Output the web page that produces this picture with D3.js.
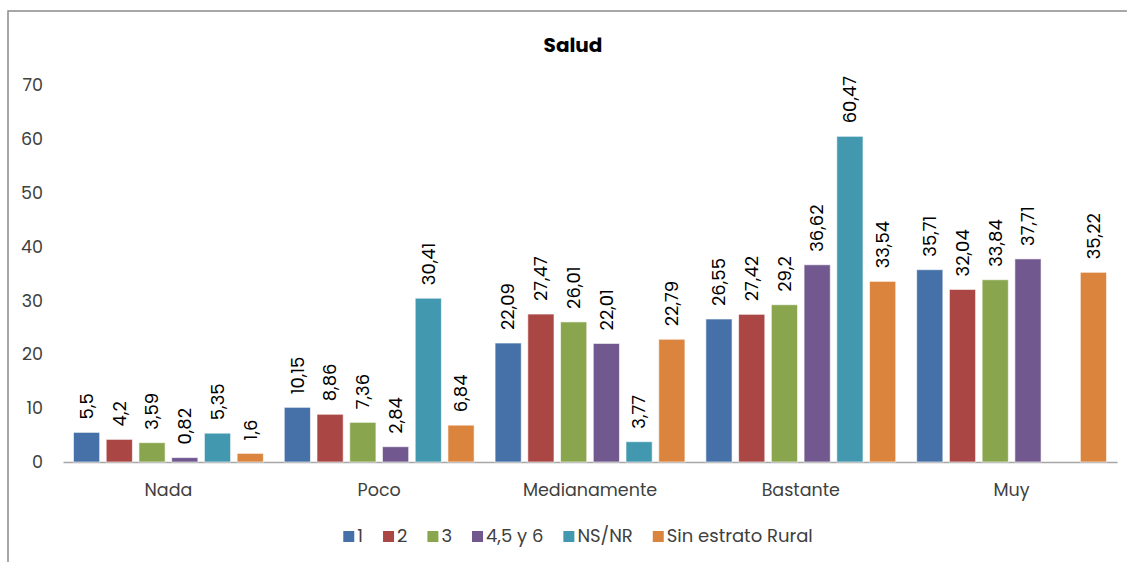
<!DOCTYPE html>
<html><head><meta charset="utf-8">
<script src="https://cdn.jsdelivr.net/npm/d3@7"></script>
<style>body{margin:0;background:#fff}svg{display:block}</style>
</head><body>
<svg id="chart" width="1127" height="562"></svg>
<script>
const categories = ["Nada","Poco","Medianamente","Bastante","Muy"];
const seriesNames = ["1","2","3","4,5 y 6","NS/NR","Sin estrato Rural"];
const s1 = [5.5,10.15,22.09,26.55,35.71];
const s2 = [4.2,8.86,27.47,27.42,32.04];
const s3 = [3.59,7.36,26.01,29.2,33.84];
const s4 = [0.82,2.84,22.01,36.62,37.71];
const s5 = [5.35,30.41,3.77,60.47,null];
const s6 = [1.6,6.84,22.79,33.54,35.22];
const yTicks = [0,10,20,30,40,50,60,70];
const colors = ["#4571a8","#aa4643","#89a54e","#71588f","#4198af","#db843d"];
const seriesValues = [s1,s2,s3,s4,s5,s6];

const svg = d3.select("#chart");
const font = "Poppins, 'Noto Sans', 'Liberation Sans', sans-serif";
// frame
svg.append("rect").attr("x",8).attr("y",11).attr("width",1200).attr("height",600)
  .attr("fill","none").attr("stroke","#8a8a8a").attr("stroke-width",1.5);

const pLeft=63, pRight=1117, pTop=85, pBottom=462;
const x0 = d3.scaleBand().domain(categories).range([pLeft,pRight]);
const x1 = d3.scaleBand().domain(seriesNames).range([0,x0.bandwidth()]).paddingInner(0.2).paddingOuter(0.32);
const y = d3.scaleLinear().domain([0,70]).range([pBottom,pTop]);

svg.append("text").attr("x",573).attr("y",52).attr("text-anchor","middle")
  .attr("font-family",font).attr("font-weight","bold").attr("font-size",20).attr("fill","#000").text("Salud");

const yAxis = svg.append("g").attr("transform",`translate(${pLeft},0)`)
  .call(d3.axisLeft(y).tickValues(yTicks).tickSize(0).tickPadding(20).tickFormat(d3.format("d")));
yAxis.select(".domain").remove();
yAxis.selectAll("text").attr("font-family",font).attr("font-size",17.5).attr("fill","#404040");

const xAxis = svg.append("g").attr("transform",`translate(0,${pBottom})`)
  .call(d3.axisBottom(x0).tickSize(0));
xAxis.select(".domain").attr("stroke","#a6a6a6").attr("stroke-width",1.3);
xAxis.selectAll("text").attr("dy",null).attr("y",34)
  .attr("font-family",font).attr("font-size",17.5).attr("fill","#404040");

const data = [];
categories.forEach((c,ci)=>seriesNames.forEach((s,si)=>{
  const v = seriesValues[si][ci];
  if(v!==null) data.push({c,s,si,v});
}));
const fmt = v => String(v).replace(".",",");
const g = svg.append("g");
g.selectAll("rect").data(data).join("rect")
  .attr("x",d=>x0(d.c)+x1(d.s)).attr("width",x1.bandwidth())
  .attr("y",d=>y(d.v)).attr("height",d=>y(0)-y(d.v))
  .attr("fill",d=>colors[d.si]).attr("stroke","rgba(255,255,255,0.6)").attr("stroke-width",1);
g.selectAll("text").data(data).join("text")
  .attr("transform",d=>`translate(${x0(d.c)+x1(d.s)+x1.bandwidth()/2+6.3},${y(d.v)-13}) rotate(-90)`)
  .attr("font-family",font).attr("font-size",18).attr("fill","#000")
  .text(d=>fmt(d.v));

// legend
const leg = svg.append("g");
let lx = 0;
seriesNames.forEach((s,i)=>{
  const it = leg.append("g");
  it.append("rect").attr("x",0).attr("y",-11).attr("width",11).attr("height",11).attr("fill",colors[i]);
  const t = it.append("text").attr("x",14).attr("y",0).attr("font-family",font).attr("font-size",18).attr("fill","#404040").text(s);
  const w = 14 + t.node().getComputedTextLength();
  it.attr("transform",`translate(${lx},0)`);
  lx += w + 20;
});
const totalW = lx - 20;
leg.attr("transform",`translate(${578-totalW/2},542)`);
</script>
</body></html>
